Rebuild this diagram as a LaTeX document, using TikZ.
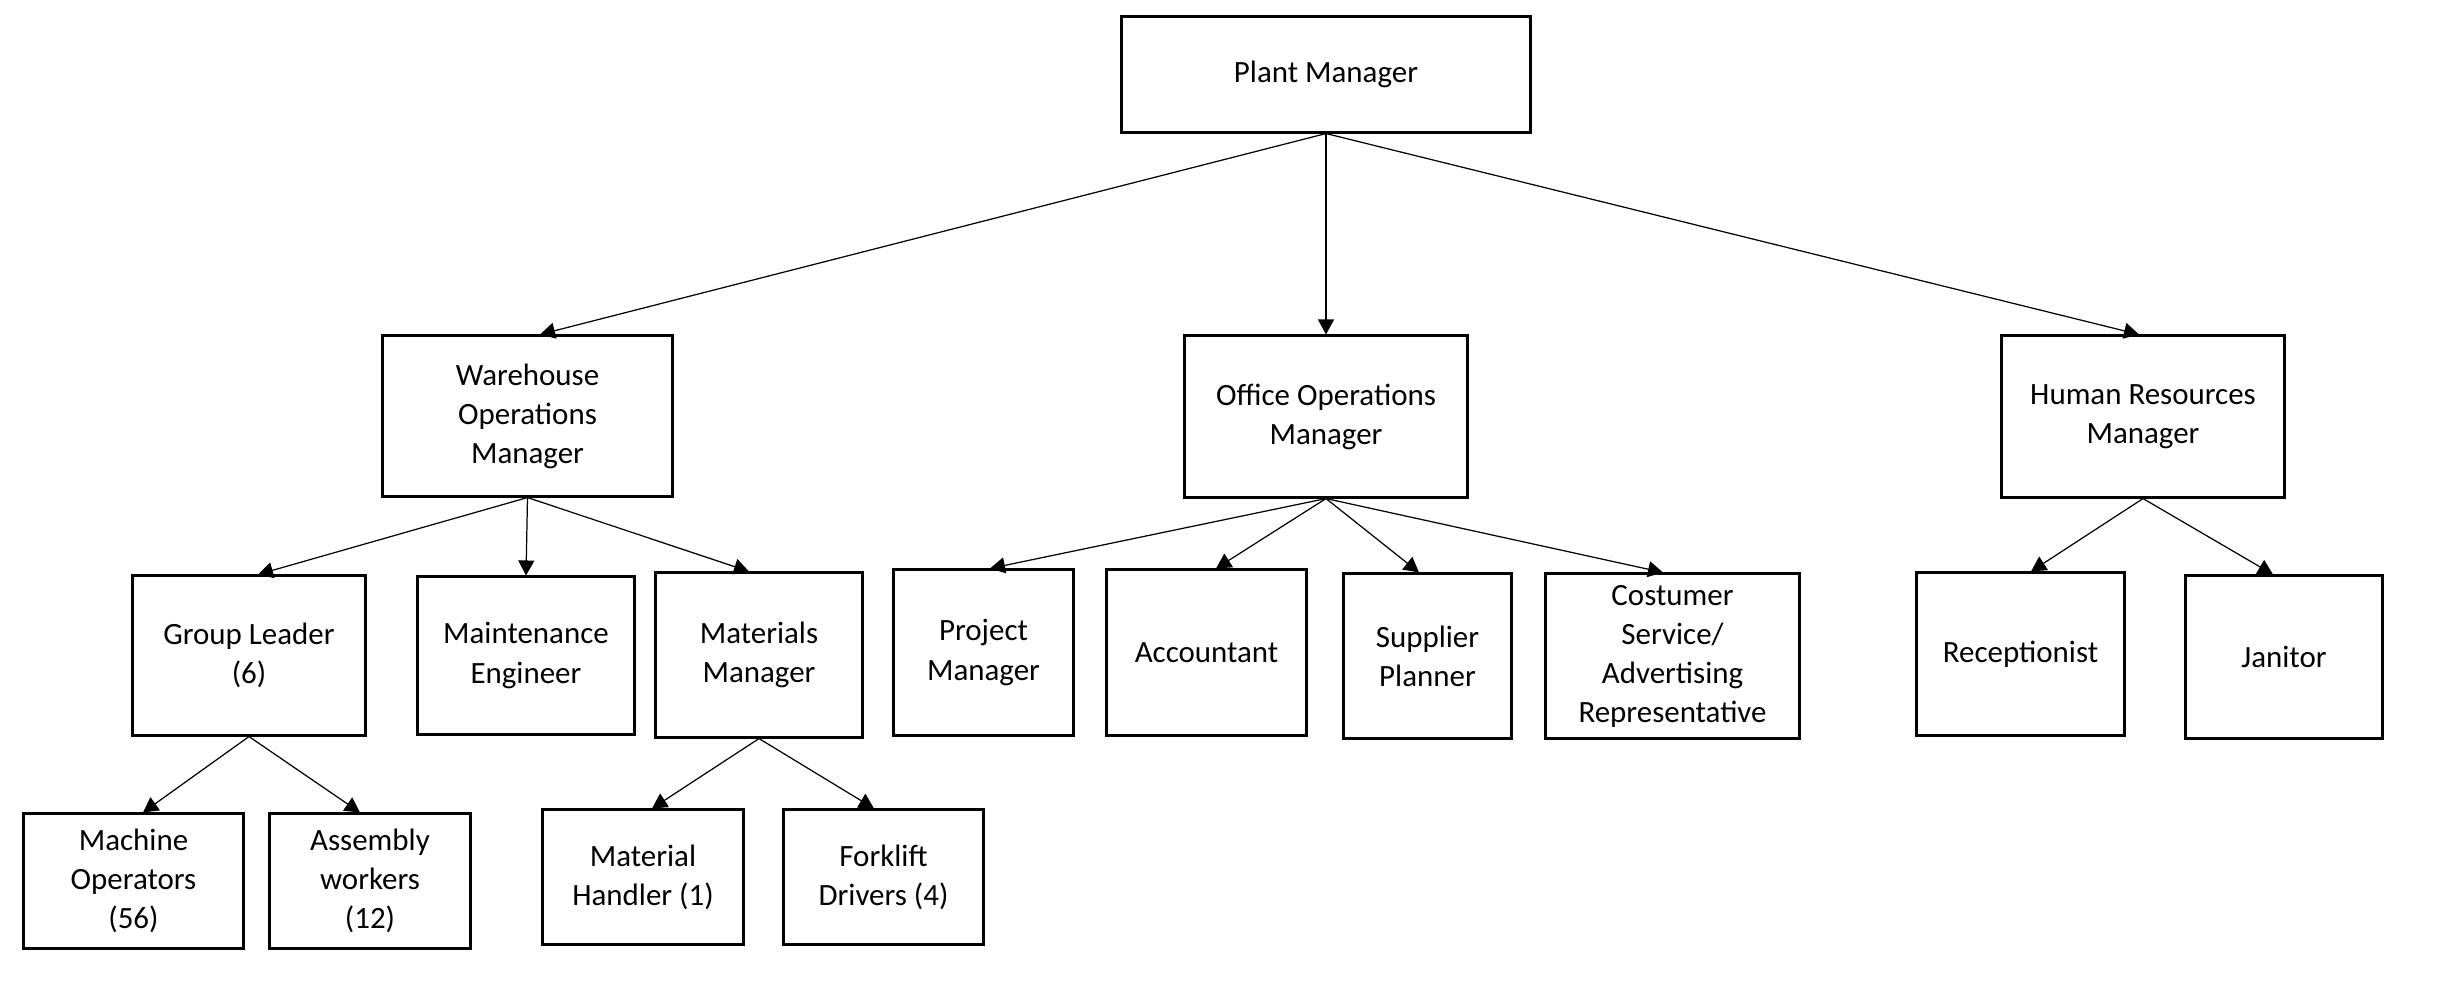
\documentclass[tikz,border=0pt]{standalone}
\usepackage{fontspec}
\setmainfont{Carlito}
\usetikzlibrary{arrows.meta}
\begin{document}
\begin{tikzpicture}[x=0.01cm,y=-0.01cm,
  box/.style={draw, line width=0.85pt, rectangle, align=center, inner sep=0pt,
    font=\fontsize{8.8pt}{11.1pt}\selectfont},
  link/.style={line width=0.35pt, -{Triangle[length=0.15cm,width=0.16cm]}}]
\useasboundingbox[fill=white] (0,0) rectangle (2440,981);
\node[box, minimum width=4.08cm, minimum height=1.15cm] (pm) at (1326,74.5) {Plant Manager};
\node[box, minimum width=2.89cm, minimum height=1.60cm] (wom) at (527.5,416) {Warehouse\\Operations\\Manager};
\node[box, minimum width=2.82cm, minimum height=1.61cm] (oom) at (1326,416.5) {Office Operations\\Manager};
\node[box, minimum width=2.82cm, minimum height=1.61cm] (hrm) at (2143,416.5) {Human Resources\\Manager};
\node[box, minimum width=2.32cm, minimum height=1.59cm] (gl) at (249,655.5) {Group Leader\\(6)};
\node[box, minimum width=2.16cm, minimum height=1.57cm] (me) at (526,655.5) {Maintenance\\Engineer};
\node[box, minimum width=2.06cm, minimum height=1.64cm] (mm) at (759,655) {Materials\\Manager};
\node[box, minimum width=1.79cm, minimum height=1.65cm] (pjm) at (983.5,652.5) {Project\\Manager};
\node[box, minimum width=1.99cm, minimum height=1.65cm] (acc) at (1206.5,652.5) {Accountant};
\node[box, minimum width=1.67cm, minimum height=1.64cm] (sp) at (1427.5,656) {Supplier\\Planner};
\node[box, minimum width=2.53cm, minimum height=1.64cm] (cs) at (1672.5,656) {Costumer\\Service/\\Advertising\\Representative};
\node[box, minimum width=2.07cm, minimum height=1.62cm] (rec) at (2020.5,654) {Receptionist};
\node[box, minimum width=1.96cm, minimum height=1.62cm] (jan) at (2284,657) {Janitor};
\node[box, minimum width=2.19cm, minimum height=1.34cm] (mo) at (133.5,881) {Machine\\Operators\\(56)};
\node[box, minimum width=2.00cm, minimum height=1.34cm] (aw) at (370,881) {Assembly\\workers\\(12)};
\node[box, minimum width=2.00cm, minimum height=1.34cm] (mh) at (643,877) {Material\\Handler (1)};
\node[box, minimum width=1.99cm, minimum height=1.34cm] (fd) at (883.5,877) {Forklift\\Drivers (4)};
\draw[link] (pm.south) -- ([xshift=0.125cm]wom.north);
\draw[link] (pm.south) -- (oom.north);
\draw[link] (pm.south) -- ([xshift=-0.04cm]hrm.north);
\draw[link] (wom.south) -- ([xshift=0.09cm]gl.north);
\draw[link] (wom.south) -- (me.north);
\draw[link] (wom.south) -- ([xshift=-0.10cm]mm.north);
\draw[link] (oom.south) -- ([xshift=0.065cm]pjm.north);
\draw[link] (oom.south) -- ([xshift=0.095cm]acc.north);
\draw[link] (oom.south) -- ([xshift=-0.085cm]sp.north);
\draw[link] (oom.south) -- ([xshift=-0.095cm]cs.north);
\draw[link] (hrm.south) -- ([xshift=0.105cm]rec.north);
\draw[link] (hrm.south) -- ([xshift=-0.11cm]jan.north);
\draw[link] (gl.south) -- ([xshift=0.095cm]mo.north);
\draw[link] (gl.south) -- ([xshift=-0.10cm]aw.north);
\draw[link] (mm.south) -- ([xshift=0.09cm]mh.north);
\draw[link] (mm.south) -- ([xshift=-0.095cm]fd.north);
\end{tikzpicture}
\end{document}
